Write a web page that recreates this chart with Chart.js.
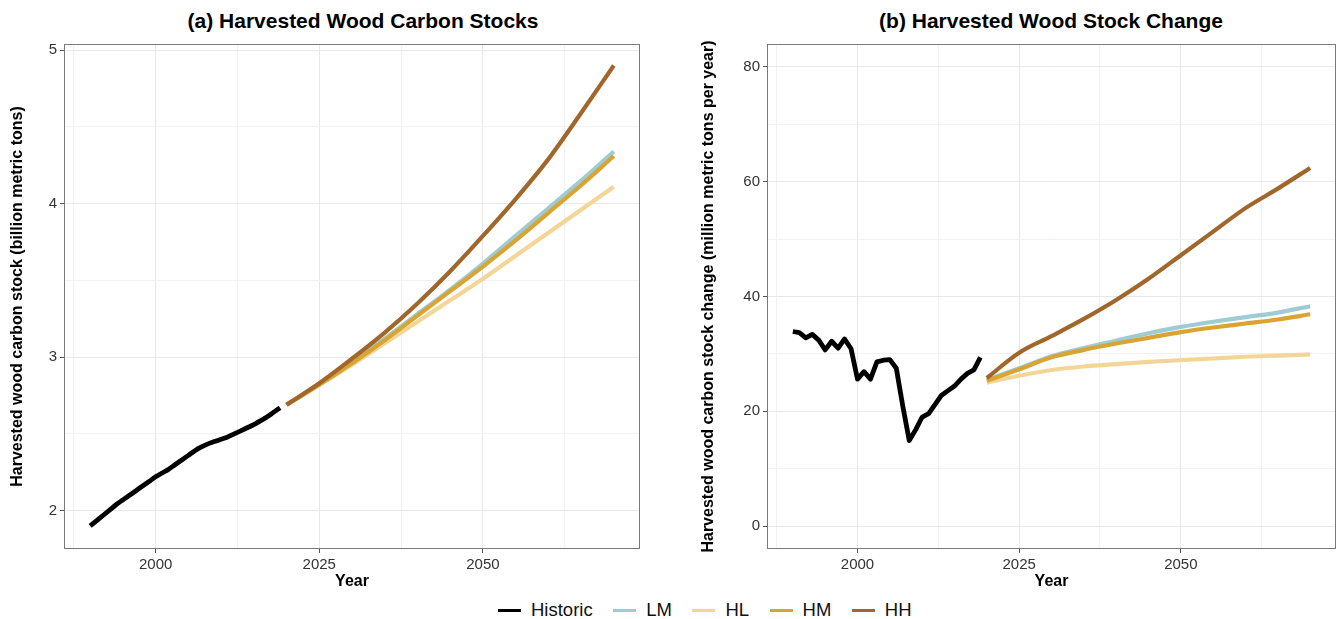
<!DOCTYPE html>
<html>
<head>
<meta charset="utf-8">
<script src="https://cdn.jsdelivr.net/npm/chart.js@4"></script>
<style>
  body { margin: 0; background: #fff; width: 1337px; height: 619px; overflow: hidden; position: relative;
         font-family: "Liberation Sans", Arial, Helvetica, sans-serif; }
  .box { position: absolute; top: 0; height: 595px; }
  .ttl { position: absolute; top: 9px; font-weight: bold; font-size: 21px; color: #000; white-space: nowrap;
         transform: translateX(-50%); }
  #legend { position: absolute; left: 498px; top: 599px; display: flex; align-items: center; font-size: 18.5px; color: #111; }
  #legend .item { display: flex; align-items: center; margin-right: 20.5px; }
  #legend .ln { width: 23px; height: 3px; margin-right: 10px; }
</style>
</head>
<body>
<div class="ttl" style="left:363px">(a) Harvested Wood Carbon Stocks</div>
<div class="ttl" style="left:1051px">(b) Harvested Wood Stock Change</div>
<div class="box" style="left:0;width:668px"><canvas id="stock-canvas"></canvas></div>
<div class="box" style="left:690px;width:647px"><canvas id="change-canvas"></canvas></div>
<div id="legend"></div>
<script>
// years
const histYears = [1990,1991,1992,1993,1994,1995,1996,1997,1998,1999,2000,2001,2002,2003,2004,
                   2005,2006,2007,2008,2009,2010,2011,2012,2013,2014,2015,2016,2017,2018,2019];
const projYears = [2020,2025,2030,2035,2040,2045,2050,2055,2060,2065,2070];

// (a) carbon stock, billion metric tons
const histStock = [1.90,1.935,1.97,2.005,2.04,2.07,2.10,2.13,2.16,2.19,2.22,2.245,2.27,2.30,2.33,
                   2.36,2.39,2.415,2.435,2.45,2.465,2.48,2.50,2.52,2.54,2.56,2.585,2.61,2.64,2.67];
const stockLM = [2.69,2.82,2.97,3.12,3.28,3.44,3.61,3.79,3.97,4.15,4.34];
const stockHL = [2.69,2.82,2.95,3.09,3.23,3.37,3.51,3.66,3.81,3.96,4.11];
const stockHM = [2.69,2.82,2.96,3.11,3.27,3.43,3.59,3.76,3.94,4.12,4.31];
const stockHH = [2.69,2.83,2.99,3.16,3.35,3.56,3.79,4.03,4.29,4.59,4.90];

// (b) stock change, million metric tons per year
const histChange = [33.9,33.7,32.8,33.4,32.4,30.7,32.2,31.0,32.6,30.9,25.6,26.9,25.6,28.6,28.9,
                    29.0,27.5,20.9,14.9,16.8,19.0,19.6,21.2,22.8,23.6,24.4,25.6,26.6,27.2,29.4];
const changeLM = [25.5,27.5,29.6,31.0,32.3,33.6,34.7,35.6,36.4,37.2,38.3];
const changeHL = [25.0,26.2,27.2,27.8,28.2,28.6,28.9,29.2,29.5,29.7,29.9];
const changeHM = [25.3,27.3,29.4,30.7,31.8,32.8,33.8,34.6,35.3,36.0,36.9];
const changeHH = [25.8,30.2,33.1,36.1,39.4,43.1,47.2,51.3,55.4,58.8,62.4];

// ticks
const xTicks = [2000, 2025, 2050];
const xMinor = [1987.5, 2012.5, 2037.5, 2062.5];
const stockTicks = [2, 3, 4, 5];
const stockMinor = [2.5, 3.5, 4.5];
const changeTicks = [0, 20, 40, 60, 80];
const changeMinor = [10, 30, 50, 70];

const seriesNames = ['Historic', 'LM', 'HL', 'HM', 'HH'];
const seriesColors = ['#000000', '#9ecbd4', '#f3d697', '#d9a532', '#a0662a'];

const FONT = '"Liberation Sans", Arial, Helvetica, sans-serif';

function pts(xs, ys){
  return xs.map((x, i) => ({x: x, y: ys[i]}));
}

function make_datasets(hist, lm, hl, hm, hh, smoothHist){
  return [hist, lm, hl, hm, hh].map(function(v, i){
    const isHist = i == 0;
    return {
      label: seriesNames[i],
      data: pts(isHist ? histYears : projYears, v),
      borderColor: seriesColors[i],
      backgroundColor: seriesColors[i],
      borderWidth: isHist ? 4.8 : 4.2,
      borderJoinStyle: 'round',
      pointRadius: 0,
      fill: false,
      tension: 0,
      cubicInterpolationMode: (isHist && !smoothHist) ? 'default' : 'monotone',
      order: 5 - i
    };
  });
}

// draws the full panel border like ggplot's theme_bw
const panelBorder = {
  id: 'panelBorder',
  afterDraw(chart){
    const a = chart.chartArea;
    const ctx = chart.ctx;
    ctx.save();
    ctx.strokeStyle = '#7a7a7a';
    ctx.lineWidth = 1;
    ctx.strokeRect(Math.round(a.left) + 0.5, Math.round(a.top) + 0.5,
                   Math.round(a.right - a.left) - 1, Math.round(a.bottom - a.top) - 1);
    ctx.restore();
  }
};

function axis(major, minor, min, max, fit, title, titlePad){
  const all = major.concat(minor).sort((a, b) => a - b);
  return {
    type: 'linear',
    min: min,
    max: max,
    afterBuildTicks: function(scale){
      scale.ticks = all.map(v => ({value: v}));
    },
    afterFit: fit,
    border: {display: false},
    grid: {
      color: (c) => major.includes(c.tick && c.tick.value) ? '#e8e8e8' : '#f1f1f1',
      lineWidth: 1,
      tickLength: 4,
      tickColor: (c) => major.includes(c.tick && c.tick.value) ? '#555' : 'rgba(0,0,0,0)'
    },
    ticks: {
      autoSkip: false,
      maxRotation: 0,
      padding: 3,
      color: '#333',
      font: {family: FONT, size: 15},
      callback: (v) => major.includes(v) ? String(v) : ''
    },
    title: {
      display: true,
      text: title,
      color: '#000',
      font: {family: FONT, size: 16, weight: 'bold'},
      padding: titlePad
    }
  };
}

function make_chart(id, datasets, yMajor, yMinor, yMin, yMax, yTitle, yWidth, padRight, yTitlePad){
  const ctx = document.getElementById(id);
  return new Chart(ctx, {
    type: 'line',
    data: {datasets: datasets},
    plugins: [panelBorder],
    options: {
      animation: false,
      responsive: true,
      maintainAspectRatio: false,
      events: [],
      plugins: {
        legend: {display: false},
        title: {display: false},
        tooltip: {enabled: false}
      },
      layout: {
        padding: {top: 44, right: padRight, left: 0, bottom: 0}
      },
      scales: {
        x: axis(xTicks, xMinor, 1986, 2074, (s) => { s.height = 46; }, 'Year', {top: 0, bottom: 4}),
        y: axis(yMajor, yMinor, yMin, yMax, (s) => { s.width = yWidth; }, yTitle, {top: yTitlePad, bottom: 0})
      }
    }
  });
}

make_chart('stock-canvas',
  make_datasets(histStock, stockLM, stockHL, stockHM, stockHH, true),
  stockTicks, stockMinor, 1.75, 5.04,
  'Harvested wood carbon stock (billion metric tons)', 64, 28, 8);

make_chart('change-canvas',
  make_datasets(histChange, changeLM, changeHL, changeHM, changeHH, false),
  changeTicks, changeMinor, -4, 84,
  'Harvested wood carbon stock change (million metric tons per year)', 77, 1, 9);

// shared legend
const legend = document.getElementById('legend');
seriesNames.forEach(function(name, i){
  const item = document.createElement('div');
  item.className = 'item';
  item.innerHTML = `<span class="ln" style="background:${seriesColors[i]}"></span><span>${name}</span>`;
  legend.appendChild(item);
});
</script>
</body>
</html>
